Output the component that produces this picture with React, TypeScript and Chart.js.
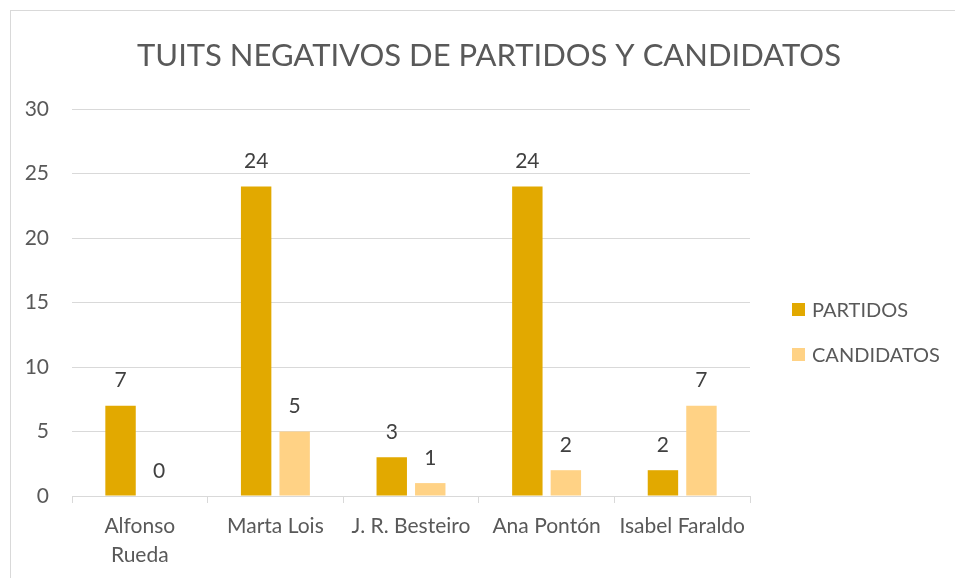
import React, { useEffect, useRef } from "react";
import { Chart, registerables } from "chart.js";

Chart.register(...registerables);

const TITLE = "TUITS NEGATIVOS DE PARTIDOS Y CANDIDATOS";
const categories: (string | string[])[] = [["Alfonso", "Rueda"], "Marta Lois", "J. R. Besteiro", "Ana Pontón", "Isabel Faraldo"];
const seriesNames = ["PARTIDOS", "CANDIDATOS"];
const partidos = [7, 24, 3, 24, 2];
const candidatos = [0, 5, 1, 2, 7];
const seriesColors = ["#E2A900", "#FFD285"];
const yTicks = [0, 5, 10, 15, 20, 25, 30];

const FONT = "Lato, 'Open Sans', sans-serif";
const TEXT = "#595959";

const decor = {
  id: "decor",
  beforeDraw(chart: any) {
    const ctx = chart.ctx;
    ctx.save();
    ctx.fillStyle = "#ffffff";
    ctx.fillRect(0, 0, chart.width, chart.height);
    ctx.strokeStyle = "#d9d9d9";
    ctx.lineWidth = 1;
    ctx.strokeRect(10.5, 10.5, chart.width + 20, chart.height + 20);
    ctx.restore();
  },
  afterDraw(chart: any) {
    const ctx = chart.ctx;
    ctx.save();
    // title
    ctx.fillStyle = TEXT;
    ctx.font = `31px ${FONT}`;
    ctx.textAlign = "center";
    ctx.textBaseline = "middle";
    ctx.fillText(TITLE, 489, 56);
    // data labels
    ctx.font = `21px ${FONT}`;
    ctx.fillStyle = "#404040";
    chart.data.datasets.forEach((ds: any, i: number) => {
      const meta = chart.getDatasetMeta(i);
      meta.data.forEach((bar: any, j: number) => {
        ctx.fillText(String(ds.data[j]), bar.x, bar.y - 25);
      });
    });
    // legend
    ctx.font = `20px ${FONT}`;
    ctx.textAlign = "left";
    const ly = [310, 355];
    seriesNames.forEach((name, i) => {
      ctx.fillStyle = seriesColors[i];
      ctx.fillRect(792, ly[i] - 7, 13, 13);
      ctx.fillStyle = TEXT;
      ctx.fillText(name, 812, ly[i] + 1);
    });
    ctx.restore();
  },
};

export default function App() {
  const ref = useRef<HTMLCanvasElement>(null);
  useEffect(() => {
    document.body.style.margin = "0";
    const chart = new Chart(ref.current!, {
      type: "bar",
      data: {
        labels: categories,
        datasets: [
          { label: seriesNames[0], data: partidos, backgroundColor: seriesColors[0], categoryPercentage: 0.568, barPercentage: 0.79 },
          { label: seriesNames[1], data: candidatos, backgroundColor: seriesColors[1], categoryPercentage: 0.568, barPercentage: 0.79 },
        ],
      },
      options: {
        responsive: false,
        animation: false,
        layout: { padding: { left: 10, right: 205, top: 109, bottom: 0 } },
        plugins: { legend: { display: false }, title: { display: false }, tooltip: { enabled: false } },
        scales: {
          x: {
            offset: true,
            grid: { offset: true, drawOnChartArea: false, color: "#d9d9d9", tickLength: 7 },
            border: { color: "#d9d9d9" },
            ticks: { color: TEXT, font: { family: FONT, size: 21, lineHeight: 1.38 }, padding: 9, maxRotation: 0, autoSkip: false },
            afterFit: (s: any) => { s.height = 82; },
          },
          y: {
            min: 0,
            max: 30,
            afterBuildTicks: (s: any) => { s.ticks = yTicks.map((v) => ({ value: v })); },
            grid: { color: "#d9d9d9", drawTicks: false },
            border: { display: false },
            ticks: { color: TEXT, font: { family: FONT, size: 21 }, padding: 23 },
            afterFit: (s: any) => { s.width = 62; },
          },
        },
      },
      plugins: [decor],
    });
    return () => chart.destroy();
  }, []);
  return <canvas ref={ref} width={955} height={578} style={{ display: "block" }} />;
}
